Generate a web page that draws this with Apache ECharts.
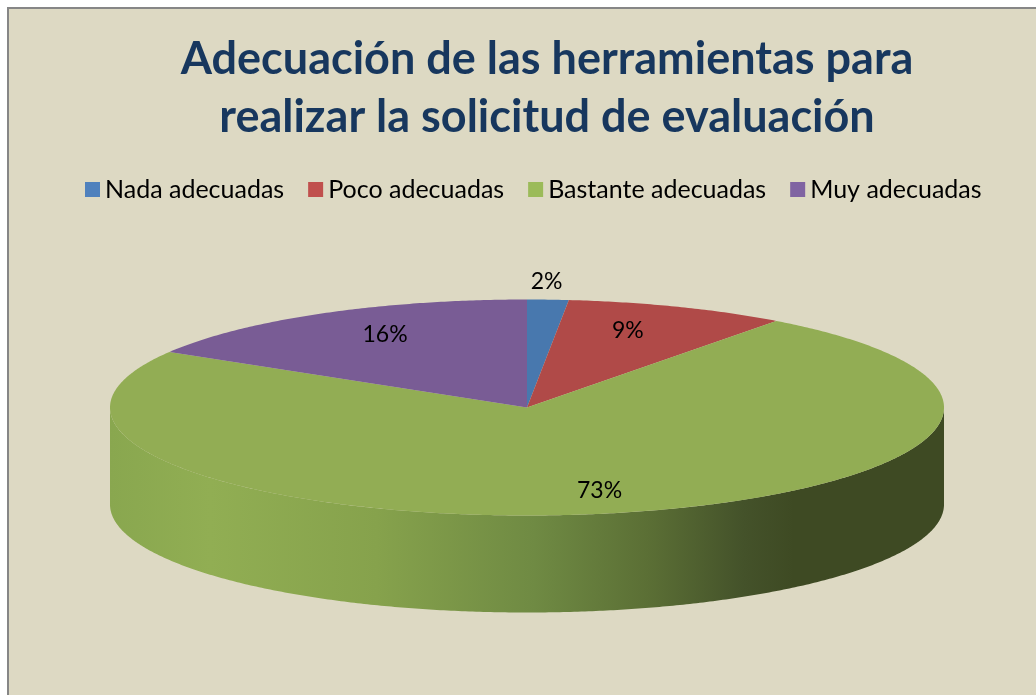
<!DOCTYPE html>
<html>
<head>
<meta charset="utf-8">
<style>
html, body { margin: 0; padding: 0; background: #fff; }
#main { width: 1036px; height: 695px; }
</style>
<script src="https://cdn.jsdelivr.net/npm/echarts@6/dist/echarts.min.js"></script>
</head>
<body>
<div id="main"></div>
<script>
var categories = ['Nada adecuadas', 'Poco adecuadas', 'Bastante adecuadas', 'Muy adecuadas'];
var values = [1.6, 8.6, 73.4, 16.4];
var percentLabels = ['2%', '9%', '73%', '16%'];
var legendColors = ['#4f81bd', '#c0504d', '#9bbb59', '#8064a2'];
var topColors = ['#4878ae', '#b04a48', '#92ad54', '#795c95'];

// ellipse of the tilted pie
var cx = 527, cy = 407.5, rx = 417, ry = 108, depth = 97;
// label placement per slice: radial factor, then small nudge
var labelRadius = [1.17, 0.72, 0.8, 0.72];
var labelNudge = [[-5, 0], [-8, -4], [8, -2], [6, -5]];

var wallStops = [
    { offset: 0, color: '#89a74f' },
    { offset: 0.12, color: '#91ae53' },
    { offset: 0.32, color: '#86a24c' },
    { offset: 0.51, color: '#6f8a43' },
    { offset: 0.645, color: '#5b6f35' },
    { offset: 0.76, color: '#44522a' },
    { offset: 0.82, color: '#3e4a23' },
    { offset: 1, color: '#3e4a23' }
];

var total = values.reduce(function (a, b) { return a + b; }, 0);

function pt(deg, dy) {
    var a = deg * Math.PI / 180;
    return [cx + rx * Math.sin(a), cy - ry * Math.cos(a) + (dy || 0)];
}

function arc(from, to, dy) {
    var pts = [];
    var n = Math.max(2, Math.ceil(Math.abs(to - from) * 2));
    for (var i = 0; i <= n; i++) {
        pts.push(pt(from + (to - from) * i / n, dy));
    }
    return pts;
}

function renderSlice(params, api) {
    var i = params.seriesIndex;
    var start = api.value(0) / total * 360;
    var end = (api.value(0) + api.value(1)) / total * 360;
    var children = [];

    // side wall only shows on the front half
    var wFrom = Math.max(start, 90), wTo = Math.min(end, 270);
    if (wTo > wFrom) {
        children.push({
            type: 'polygon',
            shape: { points: arc(wFrom, wTo, 0).concat(arc(wTo, wFrom, depth)) },
            style: { fill: new echarts.graphic.LinearGradient(cx - rx, 0, cx + rx, 0, wallStops, true) }
        });
    }

    children.push({
        type: 'polygon',
        shape: { points: [[cx, cy]].concat(arc(start, end, 0)) },
        style: { fill: topColors[i] }
    });

    var mid = (start + end) / 2 * Math.PI / 180;
    children.push({
        type: 'text',
        z2: 10,
        style: {
            x: cx + rx * labelRadius[i] * Math.sin(mid) + labelNudge[i][0],
            y: cy - ry * labelRadius[i] * Math.cos(mid) + labelNudge[i][1],
            text: percentLabels[i],
            fill: '#000',
            font: '23px Lato',
            align: 'center',
            verticalAlign: 'middle'
        }
    });
    return { type: 'group', children: children };
}

var startAt = 0;
var series = categories.map(function (name, i) {
    var s = {
        name: name,
        type: 'custom',
        coordinateSystem: 'none',
        animation: false,
        silent: true,
        itemStyle: { color: legendColors[i] },
        renderItem: renderSlice,
        data: [[startAt, values[i]]]
    };
    startAt += values[i];
    return s;
});

var chart = echarts.init(document.getElementById('main'), null, { renderer: 'canvas' });
chart.setOption({
    backgroundColor: '#ffffff',
    animation: false,
    graphic: [{
        type: 'rect',
        z: -10,
        shape: { x: 8, y: 8, width: 1040, height: 700 },
        style: { fill: '#ddd9c3', stroke: '#868686', lineWidth: 2 }
    }],
    title: {
        text: 'Adecuación de las herramientas para\nrealizar la solicitud de evaluación',
        left: 542,
        top: 25,
        textAlign: 'center',
        textStyle: {
            fontFamily: 'Lato',
            fontWeight: 'bold',
            fontSize: 45,
            lineHeight: 58,
            color: '#17375e'
        }
    },
    legend: {
        data: categories,
        left: 80,
        top: 172,
        icon: 'rect',
        itemWidth: 15,
        itemHeight: 15,
        itemGap: 24,
        textStyle: { fontFamily: 'Lato', fontSize: 25, color: '#000', padding: 0 }
    },
    series: series
});
</script>
</body>
</html>
